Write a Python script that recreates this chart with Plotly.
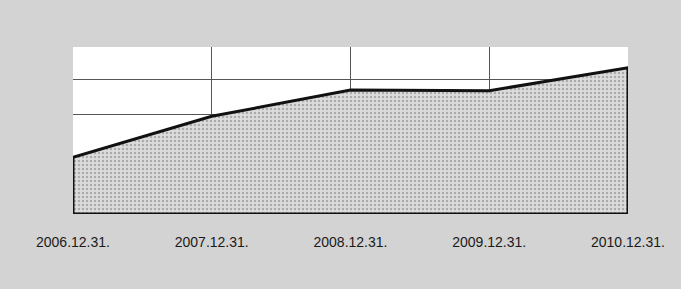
import plotly.graph_objects as go

categories = ["2006.12.31.", "2007.12.31.", "2008.12.31.", "2009.12.31.", "2010.12.31."]
values = [1.79, 2.96, 3.71, 3.69, 4.35]
baseline = [0.17, 0.17]
grid_values = [3, 4]

# closed polygon: series line then down to baseline at both ends
poly_x = categories + [categories[-1], categories[0]] + [categories[0]]
poly_y = values + baseline + [values[0]]

fig = go.Figure()
fig.add_trace(go.Scatter(
    x=poly_x, y=poly_y, mode="lines", fill="toself",
    fillcolor="#d3d3d3",
    fillpattern=dict(shape=".", bgcolor="#dcdcdc", fgcolor="#7a7a7a", size=4, solidity=0.3),
    line=dict(color="#111111", width=3), hoverinfo="skip", showlegend=False,
))

fig.update_layout(
    width=681, height=289,
    margin=dict(l=73, r=53, t=47, b=75),
    paper_bgcolor="#d3d3d3",
    plot_bgcolor="#ffffff",
    font=dict(family="Liberation Sans, Arial, sans-serif", size=14, color="#1a1a1a"),
    xaxis=dict(type="category", categoryorder="array", categoryarray=categories,
               range=[0, len(categories) - 1], showgrid=True, gridcolor="#555555", gridwidth=1,
               zeroline=False, showline=False, ticks="", ticklabelstandoff=18),
    yaxis=dict(range=[0.17, 4.94], tickmode="array", tickvals=grid_values,
               showgrid=True, gridcolor="#555555", gridwidth=1,
               showticklabels=False, zeroline=False, showline=False, ticks=""),
)

fig.write_html("out.html", config={"displayModeBar": False},
               post_script="document.body.style.margin='0';")
